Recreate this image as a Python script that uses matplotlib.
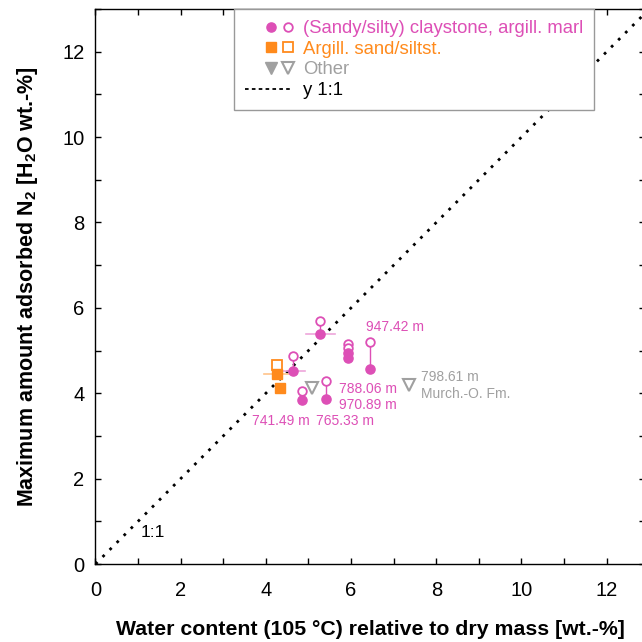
import numpy as np
import matplotlib
matplotlib.use("Agg")
from matplotlib import pyplot as plt
from matplotlib.lines import Line2D
from matplotlib.legend_handler import HandlerBase
from matplotlib.ticker import MultipleLocator

plt.rcParams["font.family"] = ["Liberation Sans", "DejaVu Sans"]
plt.rcParams["mathtext.fontset"] = "custom"
plt.rcParams["mathtext.rm"] = "Liberation Sans"
plt.rcParams["mathtext.bf"] = "Liberation Sans:bold"

PINK = "#dd4fb6"
PINK_LIGHT = "#eea6da"
ORANGE = "#ff8a1c"
ORANGE_LIGHT = "#ffc48a"
GREY = "#a0a0a0"

# (sandy/silty) claystone, argill. marl
clay_x = [5.28, 4.63, 5.93, 5.93, 6.44, 4.84, 5.40]
clay_filled = [5.39, 4.53, 4.94, 4.83, 4.57, 3.85, 3.87]
clay_open = [5.69, 4.87, 5.16, 5.05, 5.20, 4.05, 4.28]
clay_xerr = [0.34, 0.29, 0, 0, 0, 0, 0]

# argill. sand/siltstone
sand_x = [4.25, 4.33]
sand_filled = [4.44, 4.12]
sand_open = [4.65, np.nan]
sand_xerr = [0.30, 0]

# other
other_x = [5.09, 7.36]
other_open = [4.12, 4.19]

depth_labels = ["947.42 m", "788.06 m", "970.89 m", "741.49 m", "765.33 m"]
depth_pos = [(6.35, 5.56), (5.71, 4.11), (5.71, 3.73), (3.67, 3.36), (5.18, 3.36)]
other_labels = ["798.61 m", "Murch.-O. Fm."]
other_pos = [(7.64, 4.37), (7.64, 3.99)]


class PairHandler(HandlerBase):
    # filled + open marker side by side, pushed to the right of the handle
    def create_artists(self, legend, orig_handle, xdescent, ydescent,
                       width, height, fontsize, trans):
        y = height / 2 - ydescent
        out = []
        for frac, h in zip((0.55, 0.9), orig_handle):
            m = Line2D([width * frac - xdescent], [y], linestyle="none",
                       marker=h.get_marker(), markersize=h.get_markersize(),
                       markerfacecolor=h.get_markerfacecolor(),
                       markeredgecolor=h.get_markeredgecolor(),
                       markeredgewidth=h.get_markeredgewidth())
            m.set_transform(trans)
            out.append(m)
        return out


fig = plt.figure(figsize=(6.42, 6.42), dpi=100)
ax = fig.add_axes([95.5 / 642, 78 / 642, 549.5 / 642, 555 / 642])

# 1:1 line
ax.plot([0, 14], [0, 14], color="black", lw=2, linestyle=(0, (1, 2.6)), zorder=1)
ax.text(1.35, 0.73, "1:1", fontsize=12.5, ha="center", va="center")

# horizontal uncertainty of water content
for x, y, e in zip(clay_x, clay_filled, clay_xerr):
    if e > 0:
        ax.plot([x - e, x + e], [y, y], color=PINK_LIGHT, lw=1.2, zorder=2)
for x, y, e in zip(sand_x, sand_filled, sand_xerr):
    if e > 0:
        ax.plot([x - e, x + e], [y, y], color=ORANGE_LIGHT, lw=1.2, zorder=2)

# link filled and open values of the same sample
ax.vlines(clay_x, clay_filled, clay_open, color=PINK, lw=1, zorder=2)
ax.vlines(sand_x, sand_filled, sand_open, color=ORANGE, lw=1, zorder=2)

ax.plot(clay_x, clay_open, "o", ms=6.2, mfc="white", mec=PINK, mew=1.3, zorder=3)
ax.plot(clay_x, clay_filled, "o", ms=6.6, color=PINK, zorder=4)
ax.plot(sand_x, sand_open, "s", ms=6.9, mfc="white", mec=ORANGE, mew=1.3, zorder=3)
ax.plot(sand_x, sand_filled, "s", ms=7.9, color=ORANGE, zorder=4)
ax.plot(other_x, other_open, "v", ms=8.7, mfc="white", mec=GREY, mew=1.5, zorder=3)

for t, (x, y) in zip(depth_labels, depth_pos):
    ax.text(x, y, t, color=PINK, fontsize=10, ha="left", va="center")
for t, (x, y) in zip(other_labels, other_pos):
    ax.text(x, y, t, color=GREY, fontsize=10, ha="left", va="center")

ax.set_xlim(0, 12.9)
ax.set_ylim(0, 13)
ax.xaxis.set_major_locator(MultipleLocator(2))
ax.xaxis.set_minor_locator(MultipleLocator(1))
ax.yaxis.set_major_locator(MultipleLocator(2))
ax.yaxis.set_minor_locator(MultipleLocator(1))
ax.tick_params(which="both", direction="in", length=4, width=1, top=True, right=True,
               labelsize=14.5)
ax.tick_params(axis="x", which="both", pad=12.5)
ax.tick_params(axis="y", which="both", pad=8)
for s in ax.spines.values():
    s.set_linewidth(1)

ax.set_xlabel("Water content (105 °C) relative to dry mass [wt.-%]",
              fontsize=15.3, fontweight="bold", labelpad=14)
ax.set_ylabel(r"Maximum amount adsorbed N$_\mathbf{2}$ [H$_\mathbf{2}$O wt.-%]",
              fontsize=15.5, fontweight="bold", labelpad=16)

# legend
h_clay = (Line2D([], [], marker="o", ms=6.6, mfc=PINK, mec=PINK, mew=1),
          Line2D([], [], marker="o", ms=6.2, mfc="white", mec=PINK, mew=1.3))
h_sand = (Line2D([], [], marker="s", ms=7.9, mfc=ORANGE, mec=ORANGE, mew=1),
          Line2D([], [], marker="s", ms=6.9, mfc="white", mec=ORANGE, mew=1.3))
h_other = (Line2D([], [], marker="v", ms=8.7, mfc=GREY, mec=GREY, mew=1),
           Line2D([], [], marker="v", ms=8.7, mfc="white", mec=GREY, mew=1.5))
h_line = Line2D([], [], color="black", lw=1.3, linestyle=(0, (2, 1.8)))
leg = ax.legend([h_clay, h_sand, h_other, h_line],
                ["(Sandy/silty) claystone, argill. marl", "Argill. sand/siltst.",
                 "Other", "y 1:1"],
                handler_map={tuple: PairHandler()},
                loc="upper left", bbox_to_anchor=(0.252, 1.0), borderaxespad=0,
                fontsize=13.3, handlelength=2.55, handletextpad=0.55,
                labelspacing=0.19, borderpad=0.62, fancybox=False, framealpha=1)
leg.get_frame().set_edgecolor("#999999")
leg.get_frame().set_linewidth(1)
for txt, c in zip(leg.get_texts(), [PINK, ORANGE, GREY, "black"]):
    txt.set_color(c)

fig.savefig("out.png", dpi=100)
